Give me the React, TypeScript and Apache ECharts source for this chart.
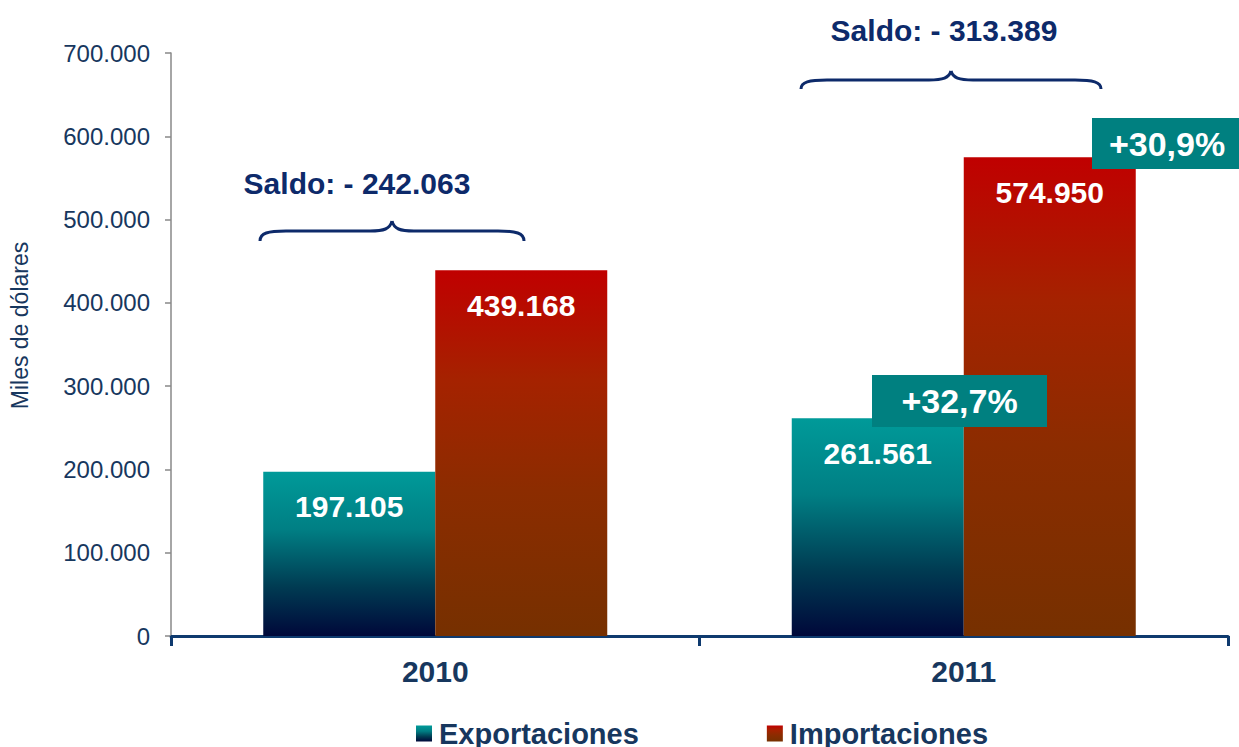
import React, { useEffect, useRef } from "react";
import * as echarts from "echarts";

const categories = ["2010", "2011"];
const exportaciones = [197105, 261561];
const importaciones = [439168, 574950];
const seriesNames = ["Exportaciones", "Importaciones"];
const saldoLabels = ["Saldo: - 242.063", "Saldo: - 313.389"];
const variaciones = ["+32,7%", "+30,9%"];
const yMin = 0;
const yMax = 700000;
const yInterval = 100000;
const yTitle = "Miles de dólares";

const FONT = '"Liberation Sans", Arial, sans-serif';
const NAVY = "#0D2A6A";
const AXIS_TXT = "#17375E";
const TEAL_BOX = "#008080";

const fmt = (n: number) => String(n).replace(/\B(?=(\d{3})+(?!\d))/g, ".");

function brace(x0: number, x1: number, yPeak: number, h: number) {
  const mid = (x0 + x1) / 2;
  const yH = yPeak + h * 0.5;
  const yEnd = yPeak + h;
  const st = { stroke: NAVY, lineWidth: 3, fill: null as any };
  return {
    type: "group",
    z: 100,
    children: [
      { type: "bezierCurve", z: 100, shape: { x1: x0, y1: yEnd, cpx1: x0, cpy1: yH + 2, cpx2: x0 + 8, cpy2: yH, x2: x0 + 26, y2: yH }, style: st },
      { type: "line", z: 100, shape: { x1: x0 + 26, y1: yH, x2: mid - 22, y2: yH }, style: st },
      { type: "bezierCurve", z: 100, shape: { x1: mid - 22, y1: yH, cpx1: mid - 8, cpy1: yH, cpx2: mid - 2, cpy2: yH - 2, x2: mid, y2: yPeak }, style: st },
      { type: "bezierCurve", z: 100, shape: { x1: mid, y1: yPeak, cpx1: mid + 2, cpy1: yH - 2, cpx2: mid + 8, cpy2: yH, x2: mid + 22, y2: yH }, style: st },
      { type: "line", z: 100, shape: { x1: mid + 22, y1: yH, x2: x1 - 26, y2: yH }, style: st },
      { type: "bezierCurve", z: 100, shape: { x1: x1 - 26, y1: yH, cpx1: x1 - 8, cpy1: yH, cpx2: x1, cpy2: yH + 2, x2: x1, y2: yEnd }, style: st },
    ],
  };
}

function box(x: number, y: number, w: number, h: number, text: string) {
  return {
    type: "group",
    z: 100,
    children: [
      { type: "rect", z: 100, shape: { x, y, width: w, height: h }, style: { fill: TEAL_BOX } },
      {
        type: "text",
        z: 101,
        x: x + w / 2,
        y: y + h / 2,
        style: { text, fill: "#ffffff", font: `bold 34px ${FONT}`, align: "center", verticalAlign: "middle" },
      },
    ],
  };
}

export default function App() {
  const ref = useRef<HTMLDivElement>(null);
  useEffect(() => {
    document.body.style.margin = "0";
    const chart = echarts.init(ref.current!, null, { renderer: "svg" });
    const expGrad = new echarts.graphic.LinearGradient(0, 0, 0, 1, [
      { offset: 0, color: "#009A99" },
      { offset: 0.35, color: "#007F84" },
      { offset: 0.7, color: "#003B52" },
      { offset: 1, color: "#00083A" },
    ]);
    const impGrad = new echarts.graphic.LinearGradient(0, 0, 0, 1, [
      { offset: 0, color: "#C00000" },
      { offset: 0.3, color: "#A52200" },
      { offset: 0.6, color: "#8C2C00" },
      { offset: 1, color: "#763000" },
    ]);
    const label = {
      show: true,
      position: "insideTop",
      distance: 20,
      color: "#ffffff",
      fontSize: 30,
      fontWeight: "bold",
      fontFamily: FONT,
      formatter: (p: any) => fmt(p.value),
    };
    chart.setOption({
      animation: false,
      grid: { left: 168, right: 11, top: 53, bottom: 111 },
      legend: {
        data: seriesNames,
        left: 416,
        top: 719,
        padding: 0,
        itemWidth: 16,
        itemHeight: 16,
        itemGap: 128,
        icon: "rect",
        textStyle: { fontSize: 29, fontWeight: "bold", color: AXIS_TXT, fontFamily: FONT, padding: [0, 0, 0, 2] },
      },
      xAxis: {
        type: "category",
        data: categories,
        axisLine: { lineStyle: { color: "#0E3A6E", width: 3 } },
        axisTick: { show: true, length: 10, lineStyle: { color: "#0E3A6E", width: 3 } },
        axisLabel: { fontSize: 30, fontWeight: "bold", color: AXIS_TXT, fontFamily: FONT, margin: 20 },
      },
      yAxis: {
        type: "value",
        min: yMin,
        max: yMax,
        interval: yInterval,
        name: yTitle,
        nameLocation: "middle",
        nameRotate: 90,
        nameGap: 140,
        nameTextStyle: { fontSize: 23, color: AXIS_TXT, fontFamily: FONT, padding: [0, 0, 0, 38] },
        axisLine: { show: true, lineStyle: { color: "#888888", width: 1.5 } },
        axisTick: { show: true, length: 6, lineStyle: { color: "#888888", width: 1.5 } },
        splitLine: { show: false },
        axisLabel: { fontSize: 24, color: AXIS_TXT, fontFamily: FONT, margin: 21, formatter: (v: number) => fmt(v) },
      },
      series: [
        { name: seriesNames[0], type: "bar", data: exportaciones, barWidth: 172, barGap: "0%", itemStyle: { color: expGrad }, label },
        { name: seriesNames[1], type: "bar", data: importaciones, barWidth: 172, barGap: "0%", itemStyle: { color: impGrad }, label },
      ],
      graphic: [
        { type: "text", z: 100, x: 357, y: 183, style: { text: saldoLabels[0], fill: NAVY, font: `bold 30px ${FONT}`, align: "center", verticalAlign: "middle" } },
        brace(260, 524, 221, 20),
        { type: "text", z: 100, x: 944, y: 30, style: { text: saldoLabels[1], fill: NAVY, font: `bold 30px ${FONT}`, align: "center", verticalAlign: "middle" } },
        brace(801, 1101, 71, 18),
        box(872, 375, 175, 52, variaciones[0]),
        box(1092, 118, 150, 51, variaciones[1]),
      ],
    });
    return () => chart.dispose();
  }, []);
  return <div ref={ref} style={{ width: 1239, height: 747 }} />;
}
